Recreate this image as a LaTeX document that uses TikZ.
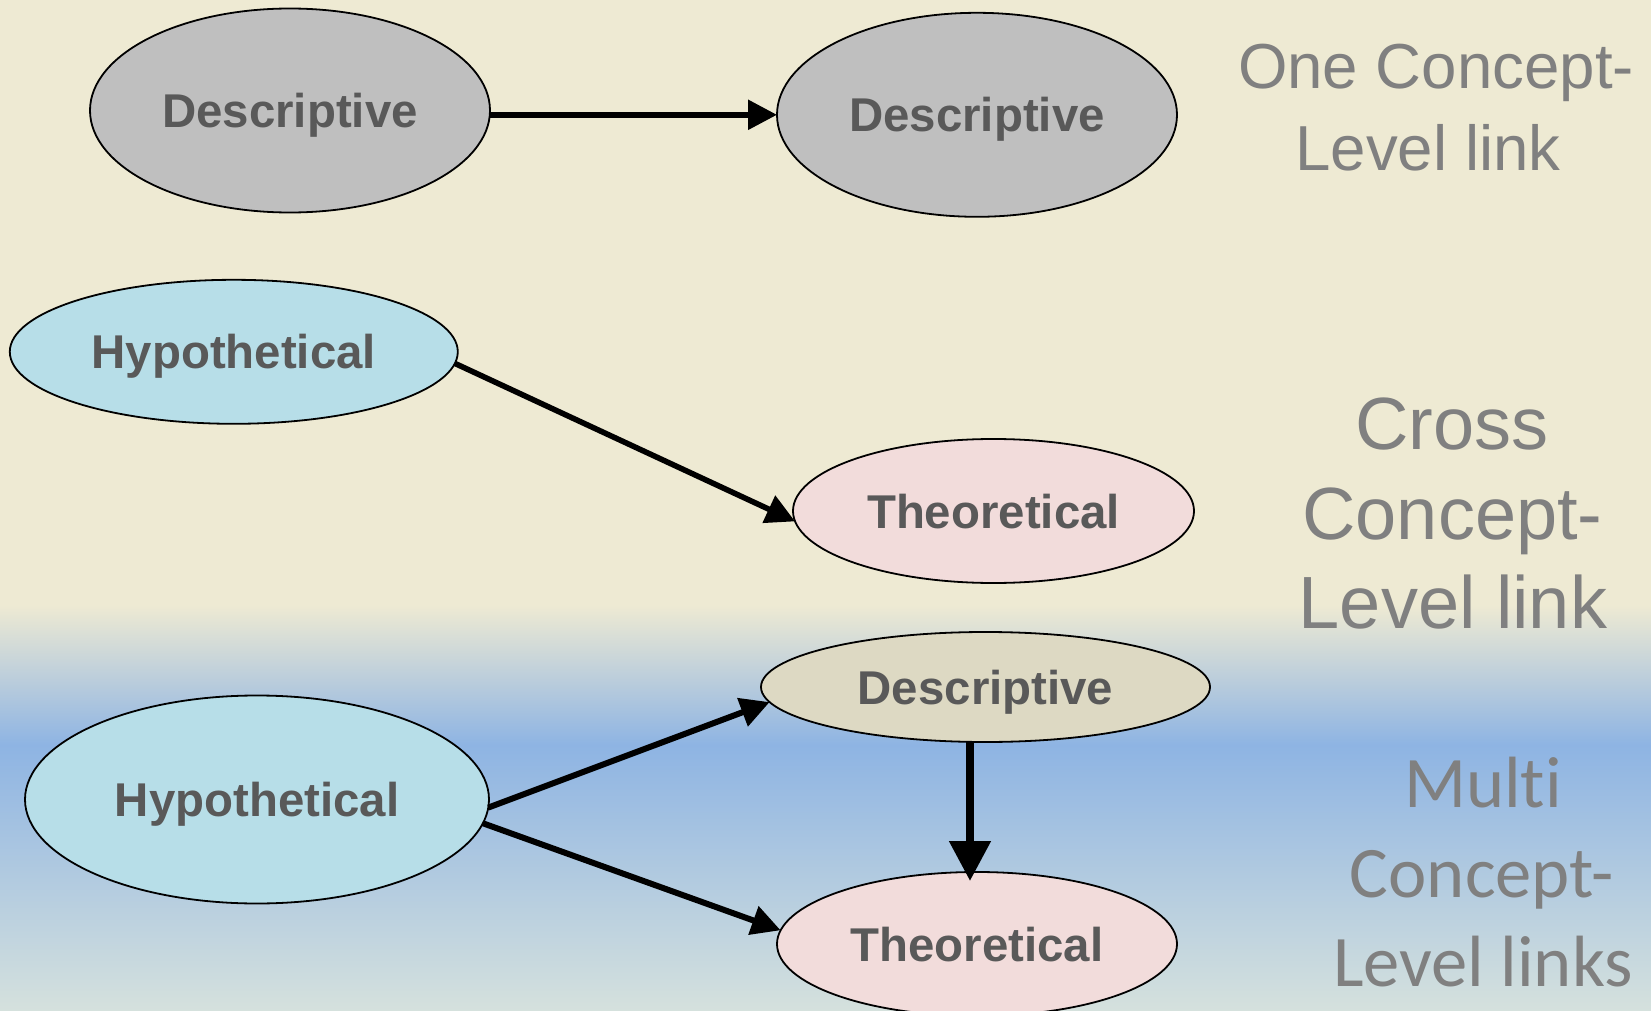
\documentclass[tikz,border=0pt]{standalone}
\usepackage{fontspec}
\newfontfamily\arialfont{Liberation Sans}
\newfontfamily\calfont[Ligatures=NoCommon]{Carlito}
\usetikzlibrary{shapes.geometric,arrows.meta,calc}
\definecolor{cream}{RGB}{238,234,211}
\definecolor{midblue}{RGB}{142,180,227}
\definecolor{bottomc}{RGB}{213,225,221}
\definecolor{descgray}{RGB}{191,191,191}
\definecolor{hypblue}{RGB}{183,222,232}
\definecolor{theopink}{RGB}{242,220,219}
\definecolor{desctan}{RGB}{221,217,195}
\definecolor{nodetext}{RGB}{89,89,89}
\definecolor{labeltext}{RGB}{128,128,128}
\tikzset{
  concept/.style={ellipse, draw=black, line width=0.9pt, inner sep=0pt, outer sep=0pt,
    text=nodetext, font=\arialfont\bfseries\fontsize{23.7}{28}\selectfont,
    text height=17pt, text depth=0pt},
  linkarrow/.style={draw=black, line width=2.8pt, -{Triangle[length=14.5pt,width=14.5pt]}},
  bigarrow/.style={draw=black, line width=4pt, -{Triangle[length=20pt,width=20pt]}},
  lblA/.style={anchor=base, inner sep=0pt, text=labeltext, font=\arialfont\fontsize{31.8}{38}\selectfont},
  lblB/.style={anchor=base, inner sep=0pt, text=labeltext, font=\arialfont\fontsize{37}{44}\selectfont},
  lblC/.style={anchor=base, inner sep=0pt, text=labeltext, font=\calfont\fontsize{36.3}{44}\selectfont}
}
\begin{document}
\begin{tikzpicture}[x=0.5pt,y=-0.5pt]
\useasboundingbox (0,0) rectangle (1651,1011);
% background
\fill[cream] (0,0) rectangle (1651,1011);
\shade[top color=cream, bottom color=midblue] (0,605) rectangle (1651,745);
\shade[top color=midblue, bottom color=bottomc] (0,745) rectangle (1651,1011);

% nodes
\node[concept, fill=descgray, minimum width=200pt, minimum height=102pt] (d1) at (290,110.5) {Descriptive};
\node[concept, fill=descgray, minimum width=200pt, minimum height=102pt] (d2) at (977,114.8) {Descriptive};
\node[concept, fill=hypblue, minimum width=224pt, minimum height=72pt] (h1) at (233.8,351.8) {Hypothetical};
\node[concept, fill=theopink, minimum width=200.5pt, minimum height=72pt] (t1) at (993.5,511) {Theoretical};
\node[concept, fill=desctan, minimum width=224.5pt, minimum height=55pt] (d3) at (985.5,687) {Descriptive};
\node[concept, fill=hypblue, minimum width=232pt, minimum height=104pt] (h2) at (257,799.5) {Hypothetical};
\node[concept, fill=theopink, minimum width=200pt, minimum height=72pt] (t2) at (977,944) {Theoretical};

% connectors
\draw[linkarrow] (d1.east |- d2.west) -- (d2.west);
\draw[linkarrow] (h1.-3.6) -- (t1.183.4);
\draw[linkarrow, line width=3pt] (h2.-2.8) -- (d3.184.1);
\draw[linkarrow, line width=3pt] (h2.-6) -- (t2.176.6);
\draw[bigarrow, shorten >=-4.5pt] ($(d3.south)+(-15.5,0)$) -- ($(t2.north)+(-7,0)$);

% right-hand labels
\node[lblA] (l1a) at (1436,88.5) {One Concept-};
\node[lblA] (l1b) at (1428,170.5) {Level link};
\node[lblB] (l2a) at (1452,449) {Cross};
\node[lblB] (l2b) at (1452.5,539) {Concept-};
\node[lblB] (l2c) at (1453,628.6) {Level link};
\node[lblC] (l3a) at (1483,807) {Multi};
\node[lblC] (l3b) at (1482,897) {Concept-};
\node[lblC] (l3c) at (1483,986.5) {Level links};
\end{tikzpicture}
\end{document}
